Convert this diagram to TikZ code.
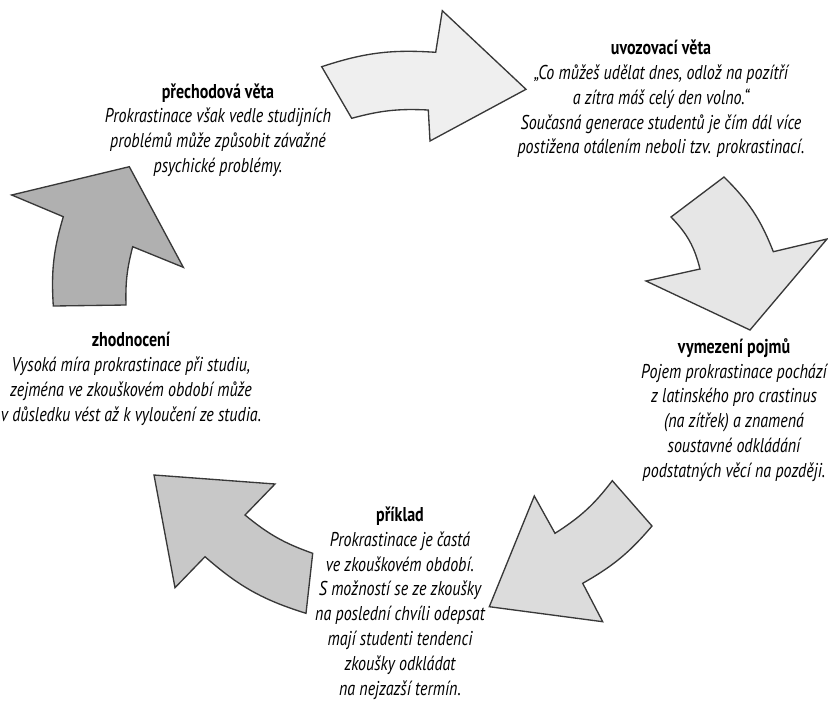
\documentclass[tikz,border=0pt]{standalone}
\usepackage{fontspec}
\setmainfont{PT Sans}[FakeStretch=0.80]
\usetikzlibrary{positioning}
\definecolor{tone1}{HTML}{EFEFEF}
\definecolor{tone2}{HTML}{E6E6E6}
\definecolor{tone3}{HTML}{DCDCDC}
\definecolor{tone4}{HTML}{C8C8C8}
\definecolor{tone5}{HTML}{B0B0B0}
\tikzstyle{phase}=[align=center, inner sep=0pt, font=\fontsize{15}{18.6}\selectfont\itshape]
\tikzstyle{turn}=[draw=black!78, line width=1pt, line join=miter]
\newcommand{\heading}[1]{{\upshape\bfseries #1}}

\begin{document}
\begin{tikzpicture}[x=0.75pt,y=0.75pt]
\useasboundingbox (0,0) rectangle (828,-701);

% curved arrows, clockwise from the top
\draw[turn, fill=tone1] (321.7,-66.7) to[bend left=11] (435.7,-52.3) -- (442.3,-10.7) -- (526,-89.3)
  -- (430,-141) -- (428.3,-110) to[bend right=9] (351.7,-118.3) -- cycle;
\draw[turn, fill=tone2] (724,-177) to[bend left=12] (773.3,-251.7) -- (827,-239) -- (750,-330)
  -- (646,-281) -- (700,-269) to[bend right=15] (671,-217) -- cycle;
\draw[turn, fill=tone3] (612.3,-480.7) to[bend left=10] (555,-533.3) -- (534.3,-496) -- (489.3,-606.7)
  -- (602.7,-621.7) -- (582.7,-583.3) to[bend right=10] (652,-526) -- cycle;
\draw[turn, fill=tone4] (245,-515) to[bend right=10] (312.7,-553.3) -- (306,-613.3) to[bend left=12] (205,-556.7)
  -- (175,-587.7) -- (154,-475) -- (275,-484) -- cycle;
\draw[turn, fill=tone5] (53.3,-306) to[bend left=10] (63.3,-216.7) -- (11.7,-195) -- (129.3,-166.7)
  -- (183.3,-267.3) -- (132.7,-246.7) to[bend right=8] (126,-305) -- cycle;

% texts
\node (uvod) [phase] at (661,-99) {\heading{uvozovací věta}\\
  „Co můžeš udělat dnes, odlož na pozítří\\
  a zítra máš celý den volno.“\\
  Současná generace studentů je čím dál více\\
  postižena otálením neboli tzv. prokrastinací.};
\node (vymezeni) [phase] at (734,-410) {\heading{vymezení pojmů}\\
  Pojem prokrastinace pochází\\
  z latinského pro crastinus\\
  (na zítřek) a znamená\\
  soustavné odkládání\\
  podstatných věcí na později.};
\node (priklad) [phase] at (400,-603) {\heading{příklad}\\
  Prokrastinace je častá\\
  ve zkouškovém období.\\
  S možností se ze zkoušky\\
  na poslední chvíli odepsat\\
  mají studenti tendenci\\
  zkoušky odkládat\\
  na nejzazší termín.};
\node (zhodnoceni) [phase] at (131,-379) {\heading{zhodnocení}\\
  Vysoká míra prokrastinace při studiu,\\
  zejména ve zkouškovém období může\\
  v důsledku vést až k vyloučení ze studia.};
\node (prechod) [phase] at (218,-130) {\heading{přechodová věta}\\
  Prokrastinace však vedle studijních\\
  problémů může způsobit závažné\\
  psychické problémy.};
\end{tikzpicture}
\end{document}
